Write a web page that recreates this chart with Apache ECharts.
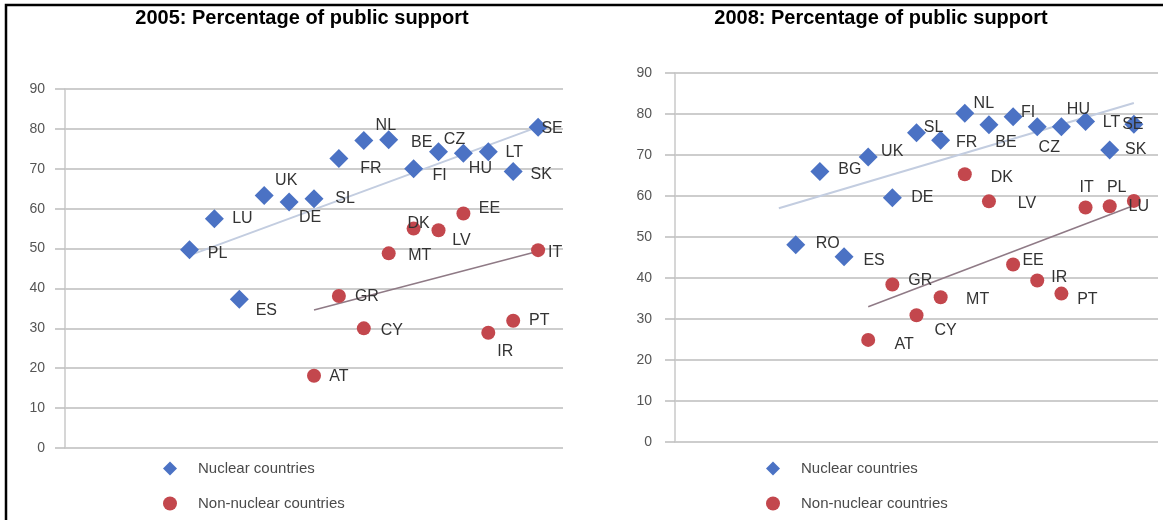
<!DOCTYPE html>
<html>
<head>
<meta charset="utf-8">
<script src="https://cdn.jsdelivr.net/npm/echarts@6/dist/echarts.min.js"></script>
<style>
html,body{margin:0;padding:0;background:#fff;}
#chart{width:1163px;height:520px;}
</style>
</head>
<body>
<div id="chart"></div>
<script>
// ---------- data ----------
const titles = ['2005: Percentage of public support', '2008: Percentage of public support'];
const legendNames = ['Nuclear countries', 'Non-nuclear countries'];
const yTicks = [0, 10, 20, 30, 40, 50, 60, 70, 80, 90];

const nuc2005Names = ['PL','LU','ES','UK','DE','SL','FR','NL','BE','FI','CZ','HU','LT','SK','SE'];
const nuc2005X     = [5, 6, 7, 8, 9, 10, 11, 12, 13, 14, 15, 16, 17, 18, 19];
const nuc2005Y     = [49.7, 57.5, 37.3, 63.3, 61.7, 62.5, 72.6, 77.1, 77.3, 70.0, 74.3, 73.9, 74.3, 69.3, 80.4];

const non2005Names = ['AT','GR','CY','MT','DK','LV','EE','IR','PT','IT'];
const non2005X     = [10, 11, 12, 13, 14, 15, 16, 17, 18, 19];
const non2005Y     = [18.1, 38.1, 30.0, 48.8, 55.0, 54.6, 58.8, 28.9, 31.9, 49.6];

const nuc2008Names = ['RO','BG','ES','UK','DE','SL','FR','NL','BE','FI','CZ','HU','LT','SK','SE'];
const nuc2008X     = [5, 6, 7, 8, 9, 10, 11, 12, 13, 14, 15, 16, 17, 18, 19];
const nuc2008Y     = [48.1, 66.0, 45.2, 69.5, 59.6, 75.4, 73.6, 80.2, 77.4, 79.3, 76.9, 76.9, 78.2, 71.2, 77.5];

const non2008Names = ['AT','GR','CY','MT','DK','LV','EE','IR','PT','IT','PL','LU'];
const non2008X     = [8, 9, 10, 11, 12, 13, 14, 15, 16, 17, 18, 19];
const non2008Y     = [24.9, 38.4, 30.9, 35.3, 65.3, 58.7, 43.3, 39.4, 36.2, 57.2, 57.5, 58.8];

// trend lines (end points)
const trendNuc2005X = [5, 19],   trendNuc2005Y = [48.3, 80.5];
const trendNon2005X = [10, 19],  trendNon2005Y = [34.6, 49.3];
const trendNuc2008X = [4.3, 19], trendNuc2008Y = [57.0, 82.7];
const trendNon2008X = [8, 19],   trendNon2008Y = [33.0, 57.7];

// ---------- label placement (offsets of each label from its point) ----------
const lblNuc2005 = {PL:[28,4],LU:[28,0],ES:[27,11],UK:[22,-15],DE:[21,16],SL:[31,0],FR:[32,10],NL:[22,-15],
  BE:[33,3],FI:[26,7],CZ:[16,-12],HU:[17,15],LT:[26,1],SK:[28,3],SE:[14,1]};
const lblNon2005 = {AT:[25,1],GR:[28,1],CY:[28,2],MT:[31,2],DK:[5,-5],LV:[23,10],EE:[26,-5],IR:[17,19],PT:[26,0],IT:[17,2]};
const lblNuc2008 = {RO:[32,-1],BG:[30,-2],ES:[30,4],UK:[24,-5],DE:[30,0],SL:[17,-5],FR:[26,2],NL:[19,-10],
  BE:[17,18],FI:[15,-4],CZ:[12,21],HU:[17,-17],LT:[26,1],SK:[26,0],SE:[-1,0]};
const lblNon2008 = {AT:[36,5],GR:[28,-4],CY:[29,15],MT:[37,2],DK:[37,3],LV:[38,2],EE:[20,-4],IR:[22,-3],PT:[26,6],
  IT:[1,-20],PL:[7,-19],LU:[5,6]};

// ---------- styles ----------
const BLUE = '#4b72c4', RED = '#c3474d';
const GRID_COLOR = '#bdbdbd';
const FONT = 'Liberation Sans, Arial, sans-serif';

function pts(names, xs, ys, offs) {
  return names.map((n, i) => ({
    name: n,
    value: [xs[i], ys[i]],
    label: { offset: offs[n] || [20, 0] }
  }));
}
function line(xs, ys) { return xs.map((x, i) => [x, ys[i]]); }

function scatter(name, idx, data, symbol, size, color) {
  return {
    name: name, type: 'scatter', xAxisIndex: idx, yAxisIndex: idx,
    symbol: symbol, symbolSize: size, data: data, z: 3,
    itemStyle: { color: color, opacity: 1 },
    label: { show: true, position: 'inside', formatter: '{b}', color: '#333',
      fontSize: 16, fontFamily: FONT },
    emphasis: { disabled: true }
  };
}
function trend(idx, data, color, width) {
  return {
    type: 'line', xAxisIndex: idx, yAxisIndex: idx, data: data, symbol: 'none',
    lineStyle: { color: color, width: width }, z: 2, silent: true
  };
}

const grids = [
  { left: 65, width: 498, top: 89, height: 359 },
  { left: 675, width: 483, top: 73, height: 369 }
];

const yAxisCommon = {
  type: 'value', min: yTicks[0], max: yTicks[yTicks.length - 1], interval: 10,
  axisLine: { show: true, lineStyle: { color: '#c8c8c8', width: 1.5 } },
  axisTick: { show: true, length: 10, lineStyle: { color: GRID_COLOR, width: 1.5 } },
  splitLine: { show: true, lineStyle: { color: GRID_COLOR, width: 1.5 } },
  axisLabel: { color: '#555', fontSize: 14, fontFamily: FONT, margin: 20 }
};

const titleStyle = { fontSize: 20, fontWeight: 'bold', color: '#000', fontFamily: FONT };

const option = {
  backgroundColor: '#fff',
  animation: false,
  title: [
    { text: titles[0], left: 302, top: 8, textAlign: 'center', padding: 0, textStyle: titleStyle },
    { text: titles[1], left: 881, top: 8, textAlign: 'center', padding: 0, textStyle: titleStyle }
  ],
  legend: [
    { orient: 'vertical', left: 163, top: 461, itemGap: 20, itemWidth: 14, itemHeight: 14, padding: 0,
      data: [{ name: legendNames[0], icon: 'diamond' }, { name: legendNames[1], icon: 'circle' }],
      textStyle: { color: '#4a4a4a', fontSize: 15, fontFamily: FONT, padding: [0, 0, 0, 16] },
      selectedMode: false },
    { orient: 'vertical', left: 766, top: 461, itemGap: 20, itemWidth: 14, itemHeight: 14, padding: 0,
      data: [{ name: legendNames[0], icon: 'diamond' }, { name: legendNames[1], icon: 'circle' }],
      textStyle: { color: '#4a4a4a', fontSize: 15, fontFamily: FONT, padding: [0, 0, 0, 16] },
      selectedMode: false }
  ],
  grid: grids,
  xAxis: [
    { type: 'value', gridIndex: 0, min: 0, max: 20, show: false },
    { type: 'value', gridIndex: 1, min: 0, max: 20, show: false }
  ],
  yAxis: [
    Object.assign({ gridIndex: 0 }, yAxisCommon),
    Object.assign({ gridIndex: 1 }, yAxisCommon, { axisLabel: Object.assign({}, yAxisCommon.axisLabel, { margin: 23 }) })
  ],
  graphic: [
    { type: 'rect', shape: { x: 6, y: 5, width: 1180, height: 540 },
      style: { fill: 'none', stroke: '#000', lineWidth: 2.5 }, silent: true }
  ],
  series: [
    trend(0, line(trendNuc2005X, trendNuc2005Y), '#c3cde0', 2),
    trend(0, line(trendNon2005X, trendNon2005Y), '#8f7a86', 1.5),
    scatter(legendNames[0], 0, pts(nuc2005Names, nuc2005X, nuc2005Y, lblNuc2005), 'diamond', 19, BLUE),
    scatter(legendNames[1], 0, pts(non2005Names, non2005X, non2005Y, lblNon2005), 'circle', 14, RED),
    trend(1, line(trendNuc2008X, trendNuc2008Y), '#c3cde0', 2),
    trend(1, line(trendNon2008X, trendNon2008Y), '#8f7a86', 1.5),
    scatter(legendNames[0], 1, pts(nuc2008Names, nuc2008X, nuc2008Y, lblNuc2008), 'diamond', 19, BLUE),
    scatter(legendNames[1], 1, pts(non2008Names, non2008X, non2008Y, lblNon2008), 'circle', 14, RED)
  ]
};

const chart = echarts.init(document.getElementById('chart'), null, { renderer: 'canvas' });
chart.setOption(option);
</script>
</body>
</html>
